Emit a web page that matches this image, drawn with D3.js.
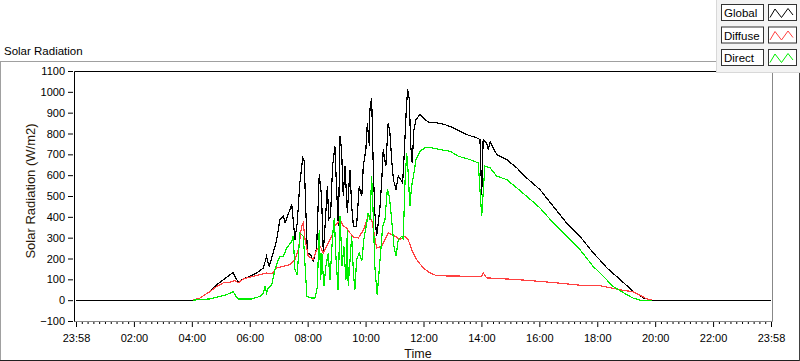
<!DOCTYPE html>
<html>
<head>
<meta charset="utf-8">
<title>Solar Radiation</title>
<script src="https://cdn.jsdelivr.net/npm/d3@7"></script>
<style>
  body { margin: 0; background: #fff; }
  svg { display: block; font-family: "Liberation Sans", Arial, sans-serif; }
</style>
</head>
<body>
<div id="container"></div>
<script>
// x values are hours from the first "23:58" tick, y values are W/m2
var timeLabels = ["23:58","02:00","04:00","06:00","08:00","10:00","12:00",
                  "14:00","16:00","18:00","20:00","22:00","23:58"];
var yTicks = d3.range(-100, 1101, 100);
var seriesNames = ["Global", "Diffuse", "Direct"];
var seriesColors = ["#000000", "#ff4040", "#00ee00"];

var globalPts = [[0,0],[4.02,0],[4.28,10],[4.63,42],[4.86,75],[5.09,98],[5.32,122],[5.42,132],
  [5.6,86],[5.78,102],[6.01,115],[6.24,130],[6.47,155],[6.58,210],[6.67,162],[6.81,227],[6.93,290],
  [7.04,387],[7.16,403],[7.22,371],[7.45,459],[7.53,339],[7.56,291],[7.64,371],[7.73,563],[7.83,683],
  [7.88,667],[7.94,419],[7.99,227],[8.1,219],[8.19,186],[8.31,251],[8.4,603],[8.48,499],[8.54,227],
  [8.6,355],[8.68,547],[8.73,387],[8.79,403],[8.86,643],[8.94,739],[9.0,531],[9.06,355],[9.12,787],
  [9.17,723],[9.23,499],[9.29,643],[9.37,419],[9.46,627],[9.52,451],[9.58,355],[9.69,355],[9.78,547],
  [9.87,499],[9.92,643],[10.01,723],[10.06,851],[10.13,739],[10.15,915],[10.21,972],[10.27,611],
  [10.32,419],[10.38,307],[10.44,371],[10.5,451],[10.56,579],[10.61,723],[10.7,643],[10.78,851],
  [10.84,803],[10.9,675],[10.96,579],[11.05,531],[11.13,595],[11.21,579],[11.28,563],[11.33,691],
  [11.4,899],[11.45,1011],[11.51,963],[11.56,739],[11.61,659],[11.67,819],[11.74,867],[11.88,891],
  [12.05,867],[12.22,851],[12.46,851],[12.74,843],[13.03,827],[13.26,811],[13.49,795],[13.84,779],
  [13.95,771],[14.01,507],[14.06,771],[14.18,755],[14.24,723],[14.3,760],[14.53,699],[14.87,675],
  [15.22,635],[15.56,587],[16.02,531],[16.48,451],[16.94,371],[17.4,307],[17.86,227],[18.09,193],
  [18.33,155],[18.78,100],[19.24,42],[19.48,22],[19.59,10],[19.89,0],[24,0]];

var diffusePts = [[4.04,0],[4.28,10],[4.63,42],[4.86,66],[5.09,83],[5.32,86],[5.49,95],[5.6,83],
  [5.78,102],[6.12,115],[6.35,122],[6.58,130],[6.76,127],[6.93,155],[7.16,162],[7.39,171],[7.56,195],
  [7.68,243],[7.79,355],[7.85,371],[7.91,291],[8.02,211],[8.19,195],[8.31,243],[8.43,259],[8.54,227],
  [8.66,259],[8.83,307],[8.94,355],[9.12,387],[9.23,355],[9.35,347],[9.46,323],[9.58,303],[9.75,299],
  [9.92,335],[10.09,403],[10.21,387],[10.38,251],[10.56,259],[10.78,323],[11.02,307],[11.19,291],
  [11.36,307],[11.47,291],[11.59,243],[11.76,195],[11.99,155],[12.22,131],[12.46,117],[13.49,115],
  [14.0,113],[14.06,131],[14.18,107],[15.22,99],[16.37,86],[17.52,70],[18.09,70],[18.44,60],
  [18.78,50],[19.24,40],[19.48,24],[19.71,6],[19.89,0]];

var directPts = [[4.04,0],[4.63,6],[4.97,18],[5.2,26],[5.38,38],[5.43,42],[5.52,18],[5.6,6],[6.07,6],
  [6.35,18],[6.47,34],[6.53,66],[6.58,34],[6.64,58],[6.76,74],[6.87,147],[6.99,195],[7.04,211],
  [7.16,211],[7.28,251],[7.45,283],[7.5,307],[7.56,147],[7.64,122],[7.73,323],[7.85,307],[7.94,98],
  [7.97,18],[8.14,10],[8.25,10],[8.33,58],[8.4,339],[8.45,98],[8.49,227],[8.56,66],[8.63,162],
  [8.71,227],[8.77,98],[8.86,307],[8.92,395],[8.98,195],[9.05,50],[9.12,403],[9.19,162],[9.25,259],
  [9.32,98],[9.37,339],[9.4,66],[9.52,307],[9.58,131],[9.63,50],[9.69,195],[9.78,227],[9.87,187],
  [9.94,291],[10.04,371],[10.09,419],[10.15,387],[10.21,595],[10.27,387],[10.32,162],[10.4,26],
  [10.5,195],[10.59,355],[10.67,387],[10.75,531],[10.82,499],[10.9,387],[10.98,259],[11.05,211],
  [11.13,291],[11.25,307],[11.3,291],[11.36,563],[11.42,707],[11.47,611],[11.53,451],[11.59,547],
  [11.67,611],[11.74,675],[11.88,715],[12.05,731],[12.28,731],[12.57,723],[12.91,715],[13.2,691],
  [13.6,675],[13.89,659],[14.01,403],[14.12,643],[14.3,635],[14.53,595],[14.87,579],[15.22,539],
  [15.56,499],[16.02,443],[16.48,371],[16.94,307],[17.4,243],[17.86,162],[18.09,131],[18.55,66],
  [18.78,46],[19.02,26],[19.24,10],[19.48,0],[19.89,0]];

var allSeries = [globalPts, diffusePts, directPts];

var width = 800, height = 361;
var plot = {x0: 74, x1: 772, y0: 71, y1: 321};

var svg = d3.select("#container").append("svg")
    .attr("width", width)
    .attr("height", height);

// outer panel frame
svg.append("line").attr("x1", 0).attr("x2", 717).attr("y1", 61.5).attr("y2", 61.5)
    .attr("stroke", "#a0a0a0");
svg.append("line").attr("x1", 0.5).attr("x2", 0.5).attr("y1", 61).attr("y2", 361)
    .attr("stroke", "#a0a0a0");
svg.append("line").attr("x1", 0).attr("x2", 800).attr("y1", 360.5).attr("y2", 360.5)
    .attr("stroke", "#202020");
svg.append("line").attr("x1", 799.5).attr("x2", 799.5).attr("y1", 61).attr("y2", 361)
    .attr("stroke", "#404040");

svg.append("text")
    .attr("x", 4).attr("y", 55)
    .attr("font-size", "11.5px")
    .attr("fill", "#000")
    .text("Solar Radiation");

var x = d3.scaleLinear().domain([0, 24]).range([76, 771]);
var y = d3.scaleLinear().domain([-100, 1100]).range([321, 71]);

// plot frame
svg.append("rect")
    .attr("x", plot.x0).attr("y", plot.y0)
    .attr("width", plot.x1 - plot.x0).attr("height", plot.y1 - plot.y0)
    .attr("fill", "#fff");
svg.append("path")
    .attr("d", "M" + (plot.x1 + 0.5) + "," + plot.y0 + "V" + (plot.y1 + 0.5) + "H" + plot.x0)
    .attr("fill", "none").attr("stroke", "#888");
svg.append("path")
    .attr("d", "M" + (plot.x0 + 0.5) + "," + (plot.y1 + 0.5) + "V" + (plot.y0 + 0.5) + "H" + (plot.x1 + 0.5))
    .attr("fill", "none").attr("stroke", "#000");

// y axis
var yAxis = svg.append("g")
    .attr("transform", "translate(73,0)")
    .call(d3.axisLeft(y).tickValues(yTicks).tickSize(5).tickPadding(3).tickFormat(d3.format("d")));
yAxis.select(".domain").remove();
yAxis.selectAll("text").attr("font-size", "11px").attr("font-family", null).attr("fill", "#000");

// x axis: major + minor ticks
var majors = d3.range(0, 25, 2);
var minors = d3.range(0, 24.001, 0.2).filter(function(d) {
  return Math.abs(d / 2 - Math.round(d / 2)) > 0.01;
});
var xMinor = svg.append("g")
    .attr("transform", "translate(0,322)")
    .call(d3.axisBottom(x).tickValues(minors).tickSize(2).tickFormat(""));
xMinor.select(".domain").remove();
var xAxis = svg.append("g")
    .attr("transform", "translate(0,322)")
    .call(d3.axisBottom(x).tickValues(majors).tickSize(5).tickPadding(7)
      .tickFormat(function(d, i) { return timeLabels[i]; }));
xAxis.select(".domain").remove();
xAxis.selectAll("text").attr("font-size", "11px").attr("font-family", null).attr("fill", "#000");

svg.append("text")
    .attr("transform", "translate(35,191) rotate(-90)")
    .attr("text-anchor", "middle")
    .attr("font-size", "13px")
    .attr("fill", "#2a1a0a")
    .text("Solar Radiation (W/m2)");

svg.append("text")
    .attr("x", 418).attr("y", 358)
    .attr("text-anchor", "middle")
    .attr("font-size", "12.5px")
    .attr("fill", "#1a1008")
    .text("Time");

// data
svg.append("clipPath").attr("id", "clip")
  .append("rect")
    .attr("x", plot.x0 + 1).attr("y", plot.y0 + 1)
    .attr("width", plot.x1 - plot.x0 - 1).attr("height", plot.y1 - plot.y0 - 1);

var line = d3.line()
    .x(function(d) { return x(d[0]); })
    .y(function(d) { return y(d[1]); });

svg.append("g").attr("clip-path", "url(#clip)")
  .selectAll("path")
  .data(allSeries)
  .enter().append("path")
    .attr("d", line)
    .attr("fill", "none")
    .attr("stroke", function(d, i) { return seriesColors[i]; })
    .attr("stroke-width", 1.2)
    .attr("shape-rendering", "crispEdges");

// legend
var legend = svg.append("g");
legend.append("rect")
    .attr("x", 716.5).attr("y", -1).attr("width", 85).attr("height", 73.5)
    .attr("fill", "#f3f3f3").attr("stroke", "#d8d8d8");

var rowY = [4, 26.5, 49];
var rows = legend.selectAll("g.row")
    .data(seriesNames)
  .enter().append("g")
    .attr("class", "row")
    .attr("transform", function(d, i) { return "translate(0," + rowY[i] + ")"; });

rows.append("rect")
    .attr("x", 721.5).attr("y", 0.5).attr("width", 42).attr("height", 16)
    .attr("fill", "#fff").attr("stroke", "#333");
rows.append("text")
    .attr("x", 724).attr("y", 13)
    .attr("font-size", "11.5px")
    .attr("fill", "#000")
    .text(function(d) { return d; });
rows.append("rect")
    .attr("x", 768.5).attr("y", 0.5).attr("width", 28).attr("height", 16)
    .attr("fill", "#fff").attr("stroke", "#333");
rows.append("path")
    .attr("d", "M770,13.5L775,5L781.5,13.5L788,4.5L793,11")
    .attr("fill", "none")
    .attr("stroke", function(d, i) { return seriesColors[i]; });
</script>
</body>
</html>
